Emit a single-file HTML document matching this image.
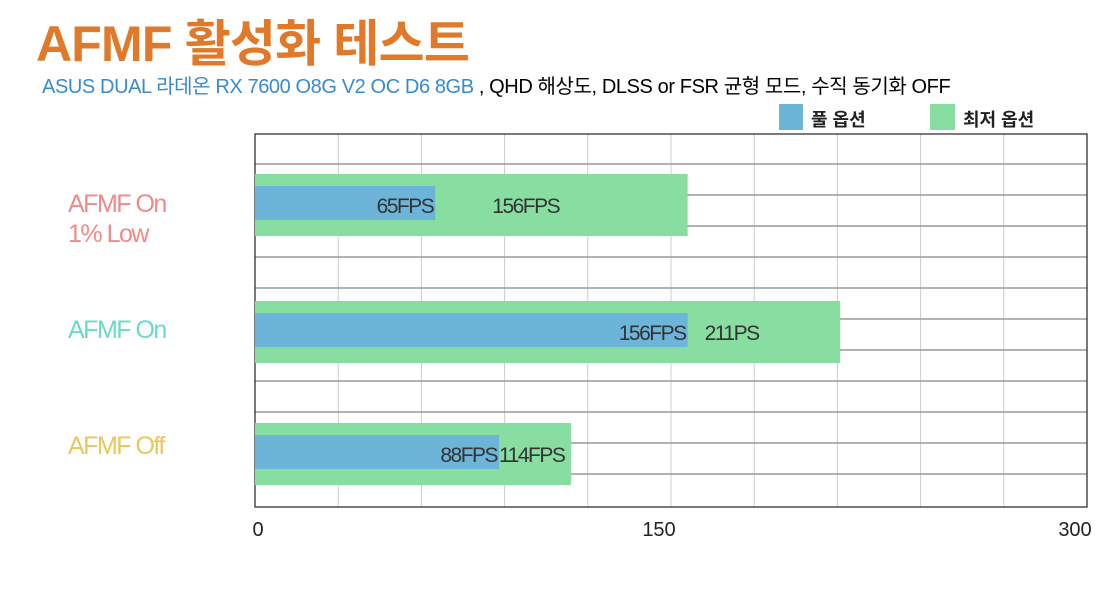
<!DOCTYPE html>
<html><head><meta charset="utf-8"><style>
body{margin:0;width:1100px;height:591px;background:#fff;overflow:hidden;font-family:"Liberation Sans","Noto Sans CJK KR",sans-serif}
.t{position:absolute;white-space:nowrap}
</style></head><body>
<div class="t" style="left:36px;top:4px;font-size:50px;font-weight:bold;color:#e07a2a;letter-spacing:-0.8px">AFMF 활성화 테스트</div>
<div class="t" style="left:42px;top:70px;font-size:20px;letter-spacing:-0.4px"><span style="color:#3a8ad0">ASUS DUAL 라데온 RX 7600 O8G V2 OC D6 8GB</span> , QHD 해상도, DLSS or FSR 균형 모드, 수직 동기화 OFF</div>
<div><div style="position:absolute;left:779px;top:104px;width:24px;height:26px;background:#6db5d8"></div><div class="t" style="left:811px;top:106px;font-size:18px;font-weight:bold;color:#222">풀 옵션</div></div>
<div><div style="position:absolute;left:930px;top:104px;width:25px;height:26px;background:#88dda0"></div><div class="t" style="left:963px;top:106px;font-size:18px;font-weight:bold;color:#222">최저 옵션</div></div>
<div class="t" style="left:68px;top:189px;font-size:25px;color:#f08a8a;letter-spacing:-1.5px;line-height:30px">AFMF On<br>1% Low</div>
<div class="t" style="left:68px;top:316px;font-size:25px;color:#6dd9c8;letter-spacing:-1.5px">AFMF On</div>
<div class="t" style="left:68px;top:432px;font-size:25px;color:#e8c85a;letter-spacing:-1.5px">AFMF Off</div>
<svg id="c" width="1100" height="591" style="position:absolute;left:0;top:0"></svg>
<script>
const categories=["AFMF On 1% Low","AFMF On","AFMF Off"];
const fullValues=[65,156,88];
const lowValues=[156,211,114];
const fullLabels=["65FPS","156FPS","88FPS"];
const lowLabels=["156FPS","211PS","114FPS"];
const ticks=[0,150,300];
const svg=document.getElementById('c');const NS='http://www.w3.org/2000/svg';
const L=255,R=1087,T=134,B=507;
const x=v=>L+(v/300)*(R-L);
function mk(t,a,p){const e=document.createElementNS(NS,t);for(const k in a)e.setAttribute(k,a[k]);(p||svg).appendChild(e);return e;}
for(let i=1;i<=9;i++){const l=mk('line',{x1:x(i*30),x2:x(i*30),y1:T,y2:B,stroke:'#ccc','stroke-width':1});

}
for(let i=0;i<11;i++){const y=164+i*31;const l=mk('line',{x1:L,x2:R,y1:y,y2:y,stroke:'#999','stroke-width':1.5});

}
const fr=mk('rect',{x:L,y:T,width:R-L,height:B-T,fill:'none',stroke:'#222','stroke-width':1.2});


const gy=[174,301,423];
categories.forEach((c,i)=>{
const g=mk('rect',{x:L,y:gy[i],width:x(lowValues[i])-L,height:62,fill:'#88dda0'});


const b=mk('rect',{x:L,y:gy[i]+12,width:x(fullValues[i])-L,height:34,fill:'#6db5d8'});


const t1=mk('text',{x:x(fullValues[i])-2,y:gy[i]+39,'text-anchor':'end','font-size':21,fill:'#333','letter-spacing':'-1.5'});t1.textContent=fullLabels[i];


const t2=mk('text',{x:x(fullValues[i])+(i==2?0:17)+(i==0?40:0),y:gy[i]+39,'font-size':21,fill:'#333','letter-spacing':'-1.5'});t2.textContent=lowLabels[i];


});
ticks.forEach((v,i)=>{const t=mk('text',{x:x(v)+(i==0?3:-12),y:536,'text-anchor':'middle','font-size':20,fill:'#222'});t.textContent=v;

});
</script>
</body></html>
